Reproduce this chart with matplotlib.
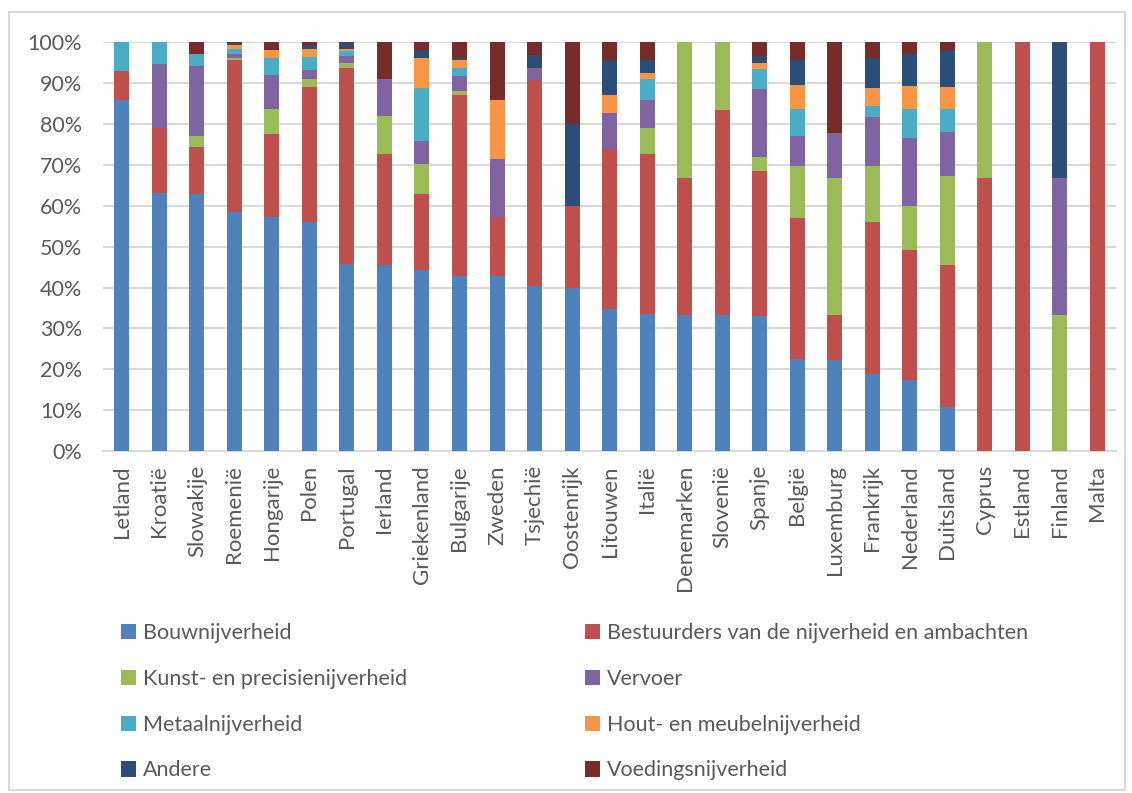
import matplotlib.pyplot as plt
import numpy as np
from matplotlib.patches import Rectangle
from matplotlib.ticker import PercentFormatter

plt.rcParams['font.family'] = ['Lato', 'DejaVu Sans']

landen = ["Letland", "Kroatië", "Slowakije", "Roemenië", "Hongarije", "Polen",
          "Portugal", "Ierland", "Griekenland", "Bulgarije", "Zweden", "Tsjechië",
          "Oostenrijk", "Litouwen", "Italië", "Denemarken", "Slovenië", "Spanje",
          "België", "Luxemburg", "Frankrijk", "Nederland", "Duitsland", "Cyprus",
          "Estland", "Finland", "Malta"]

bouw    = [85.7, 63.2, 62.9, 58.6, 57.1, 56.1, 45.8, 45.5, 44.4, 42.9, 42.9, 40.4, 40.0, 34.8,
           33.5, 33.3, 33.3, 33.0, 22.5, 22.2, 18.8, 17.5, 10.9, 0, 0, 0, 0]
bestuur = [7.1, 15.8, 11.4, 37.0, 20.4, 32.9, 47.8, 27.3, 18.5, 44.2, 14.3, 50.2, 20.0, 39.1,
           39.2, 33.3, 50.0, 35.4, 34.5, 11.1, 37.3, 31.7, 34.5, 66.7, 100, 0, 100]
kunst   = [0, 0, 2.9, 0.6, 6.1, 1.9, 1.3, 9.1, 7.4, 1.0, 0, 0, 0, 0,
           6.3, 33.3, 16.7, 3.4, 12.6, 33.3, 13.7, 10.7, 21.9, 33.3, 0, 33.3, 0]
vervoer = [0, 15.8, 17.1, 0.9, 8.2, 2.3, 1.7, 9.1, 5.6, 3.7, 14.3, 3.0, 0, 8.7,
           6.9, 0, 0, 16.6, 7.5, 11.1, 12.0, 16.6, 10.8, 0, 0, 33.3, 0]
metaal  = [7.1, 5.3, 2.9, 1.3, 4.1, 3.1, 1.2, 0, 13.0, 1.9, 0, 0, 0, 0,
           5.0, 0, 0, 5.0, 6.5, 0, 2.5, 7.1, 5.5, 0, 0, 0, 0]
hout    = [0, 0, 0, 0.9, 2.0, 2.1, 0.6, 0, 7.4, 1.9, 14.3, 0, 0, 4.3,
           1.5, 0, 0, 1.4, 6.0, 0, 4.4, 5.7, 5.4, 0, 0, 0, 0]
andere  = [0, 0, 0, 0.5, 0, 0.9, 1.3, 0, 1.9, 0.6, 0, 3.2, 20.0, 8.7,
           3.2, 0, 0, 1.9, 6.0, 0, 7.5, 7.8, 9.1, 0, 0, 33.3, 0]
voeding = [0, 0, 2.9, 0.3, 2.0, 0.7, 0.3, 9.1, 1.9, 3.8, 14.3, 3.2, 20.0, 4.3,
           4.4, 0, 0, 3.3, 4.4, 22.2, 3.8, 2.9, 1.9, 0, 0, 0, 0]

reeksen = [
    ("Bouwnijverheid", bouw, "#4F81BD"),
    ("Bestuurders van de nijverheid en ambachten", bestuur, "#C0504D"),
    ("Kunst- en precisienijverheid", kunst, "#9BBB59"),
    ("Vervoer", vervoer, "#8064A2"),
    ("Metaalnijverheid", metaal, "#4BACC6"),
    ("Hout- en meubelnijverheid", hout, "#F79646"),
    ("Andere", andere, "#2C4D75"),
    ("Voedingsnijverheid", voeding, "#772C2A"),
]

# 100% gestapeld: elke kolom schalen naar totaal 1
waarden = np.array([r[1] for r in reeksen], dtype=float)
aandeel = waarden / waarden.sum(axis=0)

fig = plt.figure(figsize=(11.32, 7.93), dpi=100)
fig.patches.append(Rectangle((9 / 1132, 3 / 793), 1116 / 1132, 778 / 793,
                             transform=fig.transFigure, fill=False,
                             edgecolor="#D9D9D9", linewidth=1.5))
ax = fig.add_axes([0.091, 0.431, 0.895, 0.516])

x = np.arange(len(landen))
onder = np.zeros(len(landen))
balken = []
for (naam, _, kleur), rij in zip(reeksen, aandeel):
    b = ax.bar(x, rij, 0.4, bottom=onder, color=kleur, label=naam, zorder=3)
    balken.append(b)
    onder += rij

ax.set_ylim(0, 1)
ax.set_xlim(-0.5, len(landen) - 0.5)
ax.set_yticks(np.arange(0, 1.01, 0.1))
ax.yaxis.set_major_formatter(PercentFormatter(1, decimals=0))
ax.set_xticks(x)
ax.set_xticklabels(landen, rotation=90)
ax.tick_params(length=0, labelcolor="#595959")
ax.tick_params(axis="y", pad=15, labelsize=15.5)
ax.tick_params(axis="x", pad=10, labelsize=16)
ax.grid(axis="y", color="#D9D9D9", linewidth=1.5, zorder=0)
for s in ["top", "right", "left"]:
    ax.spines[s].set_visible(False)
ax.spines["bottom"].set_color("#D9D9D9")
ax.spines["bottom"].set_linewidth(1.5)

# legenda rij per rij, twee kolommen
volgorde = [0, 2, 4, 6, 1, 3, 5, 7]
fig.legend([balken[i] for i in volgorde], [reeksen[i][0] for i in volgorde],
           ncol=2, loc="upper left", bbox_to_anchor=(121 / 1132, 1 - 623 / 793),
           frameon=False, fontsize=15.5, labelcolor="#595959",
           borderpad=0, borderaxespad=0,
           handlelength=0.7, handleheight=0.7, handletextpad=0.3,
           labelspacing=1.2, columnspacing=8.3)

fig.savefig("out.png", dpi=100)
